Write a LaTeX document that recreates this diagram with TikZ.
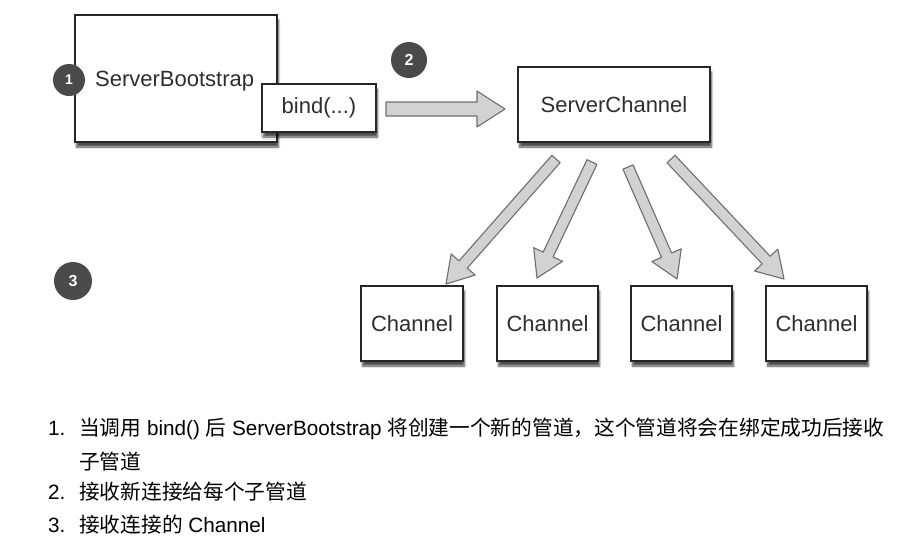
\documentclass[tikz,border=0pt]{standalone}
\usepackage{fontspec}
\setmainfont{Liberation Sans}
\newfontfamily\cjk{Noto Sans CJK SC}
\usetikzlibrary{calc,shadows,shadows.blur}
\definecolor{circ}{HTML}{4A4A4A}
\definecolor{arrfill}{HTML}{D2D2D2}
\definecolor{arrdraw}{HTML}{6E6E6E}
\definecolor{txt}{HTML}{2E2E2E}
\tikzset{
 box/.style={draw=black!85, line width=1.1pt, fill=white, inner sep=0pt,
   blur shadow={shadow xshift=1.5pt, shadow yshift=-5pt, shadow blur steps=6, shadow opacity=70}},
 num/.style={circle, fill=circ, text=white, font=\bfseries\fontsize{16}{16}\selectfont, inner sep=0pt},
 lbl/.style={font=\fontsize{22}{24}\selectfont, text=txt, inner sep=0pt},
 fatarr/.style={draw=arrdraw, fill=arrfill, line width=1.1pt, line join=round},
 item/.style={anchor=base west, font=\fontsize{20.7}{24}\selectfont, inner sep=0pt, text=black},
}
\newcommand\fatarrow[5]{%
 \coordinate (fa-h) at ($(#2)!#5!(#1)$);
 \draw[fatarr] ($(#1)!#3!90:(#2)$) -- ($(fa-h)!#3!-90:(#1)$) -- ($(fa-h)!#4!-90:(#1)$) -- (#2) -- ($(fa-h)!#4!90:(#1)$) -- ($(fa-h)!#3!90:(#1)$) -- ($(#1)!#3!-90:(#2)$) -- cycle;}
\begin{document}
\begin{tikzpicture}[x=1pt,y=-1pt]
\useasboundingbox (0,0) rectangle (914,552);
% boxes
\node[box, minimum width=202pt, minimum height=127pt] (sb) at (176,78.5) {};
\node[lbl, anchor=base west] (sbl) at (95,86) {ServerBootstrap};
\node[box, minimum width=114pt, minimum height=48pt, lbl] (bind) at (319,108) {bind(...)};
\node[box, minimum width=192pt, minimum height=75pt, lbl] (sc) at (614,104.5) {ServerChannel};
\node[box, minimum width=102pt, minimum height=75pt, lbl] (ch1) at (412,323.5) {Channel};
\node[box, minimum width=101pt, minimum height=75pt, lbl] (ch2) at (547.5,323.5) {Channel};
\node[box, minimum width=101pt, minimum height=75pt, lbl] (ch3) at (681.5,323.5) {Channel};
\node[box, minimum width=101pt, minimum height=75pt, lbl] (ch4) at (816.5,323.5) {Channel};
% numbered circles
\node[num, minimum size=32pt, font=\bfseries\fontsize{14}{14}\selectfont] (c1) at (69,80) {1};
\node[num, minimum size=36pt] (c2) at (409,60) {2};
\node[num, minimum size=38pt] (c3) at (73,281) {3};
% arrows
\coordinate (a0s) at (386,109);
\coordinate (a0e) at (505,109);
\fatarrow{a0s}{a0e}{7pt}{18pt}{28pt}
\coordinate (a1s) at (556,159);
\coordinate (a1e) at (446,284);
\coordinate (a2s) at (592,162);
\coordinate (a2e) at (537,278);
\coordinate (a3s) at (628,167);
\coordinate (a3e) at (677,279);
\coordinate (a4s) at (671,159);
\coordinate (a4e) at (784,279);
\fatarrow{a1s}{a1e}{5.5pt}{16pt}{26pt}
\fatarrow{a2s}{a2e}{5.5pt}{16pt}{26pt}
\fatarrow{a3s}{a3e}{5.5pt}{16pt}{26pt}
\fatarrow{a4s}{a4e}{5.5pt}{16pt}{26pt}
% list
\node[item] (n1) at (48,435) {1.};
\node[item] (t1) at (79,435) {{\cjk 当调用} bind() {\cjk 后} ServerBootstrap {\cjk 将创建一个新的管道，这个管道将会在绑定成功后接收}};
\node[item] (t1b) at (79,469) {\cjk 子管道};
\node[item] (n2) at (48,499) {2.};
\node[item] (t2) at (79,499) {\cjk 接收新连接给每个子管道};
\node[item] (n3) at (48,532) {3.};
\node[item] (t3) at (79,532) {{\cjk 接收连接的} Channel};
\end{tikzpicture}
\end{document}
